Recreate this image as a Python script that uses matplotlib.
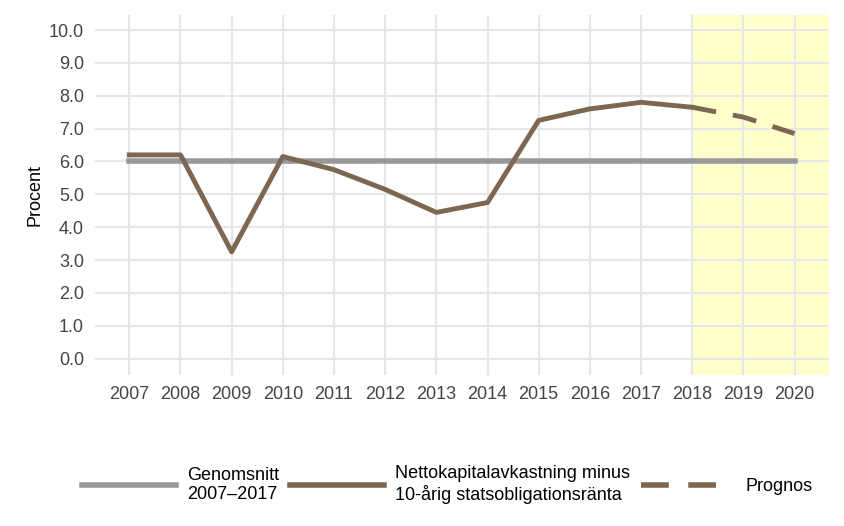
import matplotlib
matplotlib.use("Agg")
import matplotlib.pyplot as plt
from matplotlib.lines import Line2D

years = [2007, 2008, 2009, 2010, 2011, 2012, 2013, 2014, 2015, 2016, 2017, 2018]
netto = [6.2, 6.2, 3.25, 6.15, 5.75, 5.15, 4.45, 4.75, 7.25, 7.6, 7.8, 7.65]
prog_years = [2018, 2019, 2020]
prognos = [7.65, 7.35, 6.85]
avg_years = [2007, 2020]
avg = [6.0, 6.0]
yticks = [0, 1, 2, 3, 4, 5, 6, 7, 8, 9, 10]

plt.rcParams["font.family"] = "Liberation Sans"
fig = plt.figure(figsize=(8.44, 5.26), dpi=100)
ax = fig.add_axes([0.1126, 0.287, 0.870, 0.684])
ax.set_xlim(2006.33, 2020.68)
ax.set_ylim(-0.5, 10.45)
ax.axvspan(2018, 2020.68, color="#ffffcc", zorder=0)
ax.set_xticks(range(2007, 2021))
ax.set_yticks(yticks)
ax.set_yticklabels([f"{v:.1f}" for v in yticks])
ax.grid(True, color="#e6e6e6", lw=1.5, zorder=1)
for s in ax.spines.values():
    s.set_visible(False)
ax.tick_params(length=0, labelsize=13, colors="#444444", pad=8)
ax.set_ylabel("Procent", fontsize=13)

gray = "#999999"
brown = "#7d6750"
ax.plot(avg_years, avg, color=gray, lw=4, zorder=3)
ax.plot(years, netto, color=brown, lw=3.5, zorder=4)
ax.plot(prog_years, prognos, color=brown, lw=3.5, ls=(0, (5, 3.5)), zorder=4)

handles = [Line2D([], [], color=gray, lw=4), Line2D([], [], color=brown, lw=4),
           Line2D([], [], color=brown, lw=4, ls=(0, (5, 3.5)))]
labels = ["Genomsnitt\n2007–2017", "Nettokapitalavkastning minus\n10-årig statsobligationsränta", "Prognos"]
fig.legend(handles, labels, loc="lower center", bbox_to_anchor=(0.53, 0.01), ncol=3,
           frameon=False, fontsize=13, handlelength=5.2, columnspacing=0.6, handletextpad=0.6)
fig.savefig("out.png", dpi=100)
